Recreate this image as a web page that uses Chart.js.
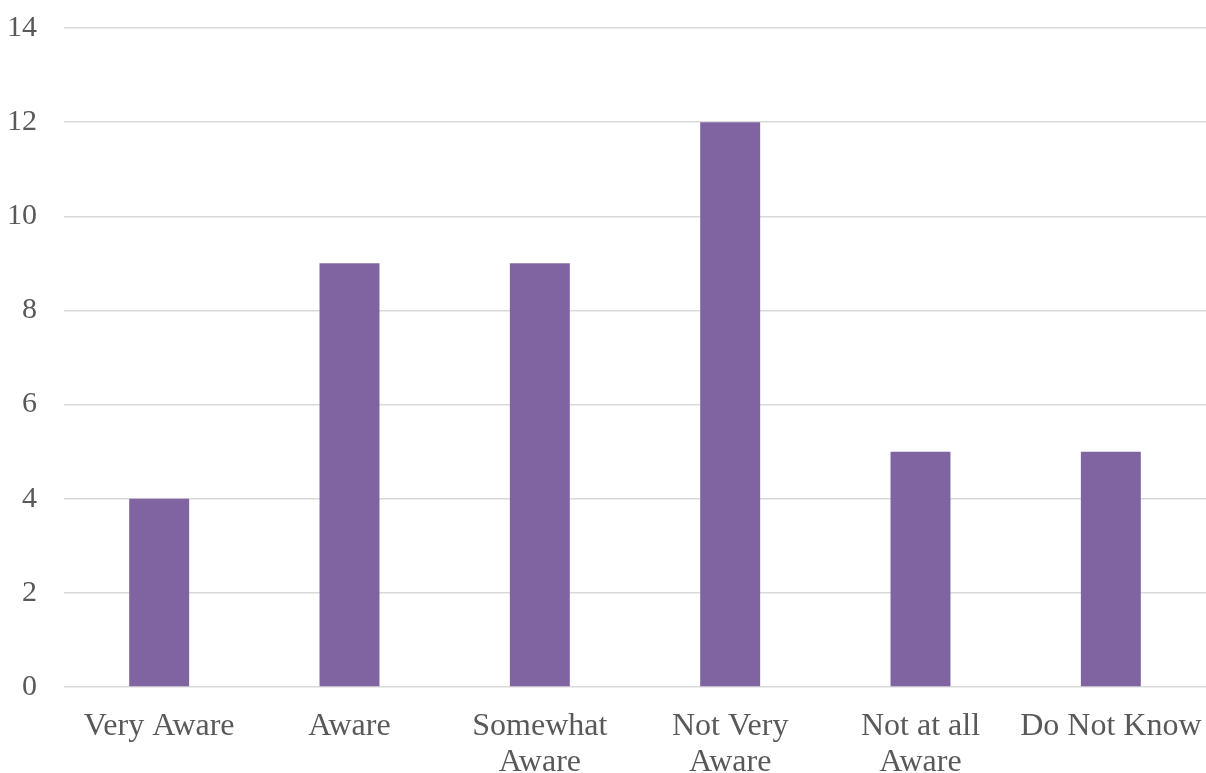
<!DOCTYPE html>
<html>
<head>
<meta charset="utf-8">
<title>Awareness</title>
<script src="https://cdn.jsdelivr.net/npm/chart.js@4"></script>
<style>
  html, body { margin: 0; padding: 0; background: #fff; }
  #wrap { width: 1206px; height: 773px; }
</style>
</head>
<body>
<div id="wrap"><canvas id="awareChart" width="1206" height="773"></canvas></div>
<script>
// categories and counts
const categories = ['Very Aware', 'Aware', ['Somewhat', 'Aware'], ['Not Very', 'Aware'], ['Not at all', 'Aware'], 'Do Not Know'];
const counts = [4, 9, 9, 12, 5, 5];
const yTicks = [0, 2, 4, 6, 8, 10, 12, 14];

const textColor = '#595959';
const gridColor = '#d9d9d9';
const family = '"Liberation Serif", "Times New Roman", serif';

const ctx = document.getElementById('awareChart').getContext('2d');
const chart = new Chart(ctx, {
  type: 'bar',
  data: {
    labels: categories,
    datasets: [{
      data: counts,
      backgroundColor: '#8064a2',
      borderWidth: 0,
      categoryPercentage: 1,
      barPercentage: 0.315,
    }],
  },
  options: {
    responsive: false,
    animation: false,
    layout: { padding: { top: 28, left: 0, right: 0, bottom: 0 } },
    plugins: { legend: { display: false }, tooltip: { enabled: false } },
    scales: {
      x: {
        grid: { display: false },
        border: { display: false },
        ticks: {
          color: textColor,
          font: { family, size: 32, lineHeight: 1.125 },
          padding: 14,
          maxRotation: 0,
          autoSkip: false,
        },
        afterFit: (scale) => {
          scale.height = 86;
          scale.paddingLeft = 0;
          scale.paddingRight = 0;
        },
      },
      y: {
        min: 0,
        max: yTicks[yTicks.length - 1],
        afterBuildTicks: (scale) => { scale.ticks = yTicks.map((v) => ({ value: v })); },
        grid: { color: gridColor, lineWidth: 1.5, drawTicks: false },
        border: { display: false },
        ticks: { color: textColor, font: { family, size: 30 }, padding: 27 },
        afterFit: (scale) => {
          scale.width = 64;
          scale.paddingTop = 0;
          scale.paddingBottom = 0;
        },
      },
    },
  },
});
</script>
</body>
</html>
